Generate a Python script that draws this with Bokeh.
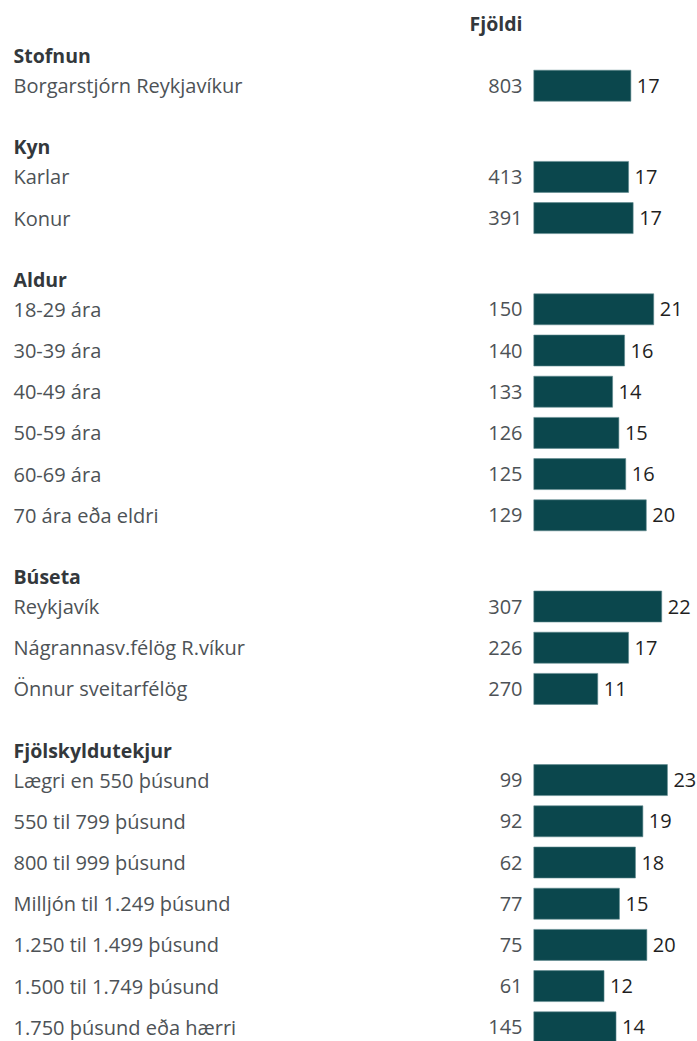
from bokeh.plotting import figure
from bokeh.models import ColumnDataSource, Range1d
from bokeh.core.properties import value
from bokeh.embed import file_html
from bokeh.resources import INLINE

# ---------------- data ----------------
groups = ["Stofnun", "Kyn", "Aldur", "Búseta", "Fjölskyldutekjur"]
group_categories = [
    ["Borgarstjórn Reykjavíkur"],
    ["Karlar", "Konur"],
    ["18-29 ára", "30-39 ára", "40-49 ára", "50-59 ára", "60-69 ára", "70 ára eða eldri"],
    ["Reykjavík", "Nágrannasv.félög R.víkur", "Önnur sveitarfélög"],
    ["Lægri en 550 þúsund", "550 til 799 þúsund", "800 til 999 þúsund",
     "Milljón til 1.249 þúsund", "1.250 til 1.499 þúsund", "1.500 til 1.749 þúsund",
     "1.750 þúsund eða hærri"],
]
group_counts = [
    [803],
    [413, 391],
    [150, 140, 133, 126, 125, 129],
    [307, 226, 270],
    [99, 92, 62, 77, 75, 61, 145],
]
group_values = [
    [17.0],
    [16.6, 17.4],
    [21.0, 15.9, 13.8, 14.9, 16.1, 19.7],
    [22.4, 16.6, 11.2],
    [23.4, 19.1, 17.8, 15.0, 19.8, 12.3, 14.4],
]
count_header = "Fjöldi"

# ---------------- layout (reference pixel units) ----------------
W, H = 697, 1041
REF_X0, REF_X1 = 0, 697
REF_Y0, REF_Y1 = 0, 1041
BAR_X0 = 533.3
PX_PER_UNIT = 5.71
FIRST_ROW = 85.2
PITCH = 41.2
GROUP_GAP = 91.2
HEADER_OFFSET = 30
BAR_H = 31
LABEL_X = 13
COUNT_X = 522

FONT = "Open Sans"
FS = "20px"
FS_B = "19.5px"
BAR_COLOR = "#0b474d"

rows_y, rows_lab, rows_cnt, rows_val = [], [], [], []
head_y = []
y = FIRST_ROW
for gi, (cats, cnts, vals) in enumerate(zip(group_categories, group_counts, group_values)):
    if gi > 0:
        y += GROUP_GAP - PITCH
    head_y.append(y - HEADER_OFFSET)
    for c, n, v in zip(cats, cnts, vals):
        rows_y.append(y)
        rows_lab.append(c)
        rows_cnt.append(str(n))
        rows_val.append(v)
        y += PITCH

src = ColumnDataSource(dict(
    y=rows_y, label=rows_lab, count=rows_cnt, val=rows_val,
    val_txt=[f"{v:.0f}" for v in rows_val],
    lx=[LABEL_X] * len(rows_y), cx=[COUNT_X] * len(rows_y), zero=[0] * len(rows_y),
))
hsrc = ColumnDataSource(dict(y=head_y, label=groups, x=[LABEL_X] * len(groups)))

p = figure(width=W, height=H, output_backend="svg", toolbar_location=None,
           x_range=Range1d(REF_X0, REF_X1), y_range=Range1d(REF_Y1, REF_Y0),
           x_axis_location=None, y_axis_location=None, min_border=0)
p.extra_x_ranges = {"val": Range1d((REF_X0 - BAR_X0) / PX_PER_UNIT, (REF_X1 - BAR_X0) / PX_PER_UNIT)}
p.xgrid.visible = False
p.ygrid.visible = False
p.outline_line_color = None
p.background_fill_color = "white"
p.border_fill_color = "white"

p.hbar(y="y", left="zero", right="val", height=BAR_H, source=src, x_range_name="val",
       fill_color=BAR_COLOR, line_color="#5f8a8e", line_width=0.6)

p.text(x="lx", y="y", text="label", source=src, text_font=value(FONT), text_font_size=FS,
       text_color="#4d5256", text_align="left", text_baseline="middle")
p.text(x="cx", y="y", text="count", source=src, text_font=value(FONT), text_font_size=FS,
       text_color="#4d5256", text_align="right", text_baseline="middle")
p.text(x="val", y="y", text="val_txt", source=src, x_range_name="val", x_offset=6,
       text_font=value(FONT), text_font_size=FS,
       text_color="#1f1f1f", text_align="left", text_baseline="middle")
p.text(x="x", y="y", text="label", source=hsrc, text_font=value(FONT), text_font_size=FS_B,
       text_font_style="bold", text_color="#33383c", text_align="left", text_baseline="middle")
p.text(x=[COUNT_X], y=[23], text=[count_header], text_font=value(FONT), text_font_size=FS_B,
       text_font_style="bold", text_color="#33383c", text_align="right", text_baseline="middle")

open("out.html", "w").write(file_html(p, INLINE))
